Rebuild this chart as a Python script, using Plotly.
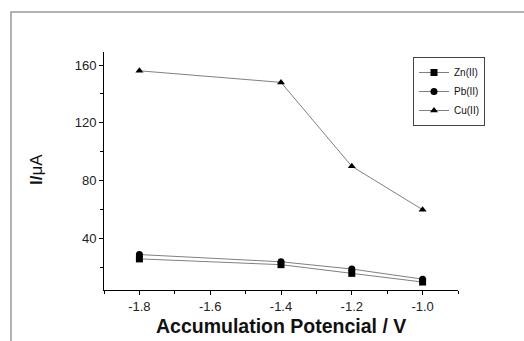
import plotly.graph_objects as go

potential = [-1.8, -1.4, -1.2, -1.0]
zn = [26, 22, 16, 10]
pb = [29, 24, 19, 12]
cu = [156, 148, 90, 60]
names = ["Zn(II)", "Pb(II)", "Cu(II)"]
symbols = ["square", "circle", "triangle-up"]

W, H = 524, 341
L, R, T, B = 104, 66, 52, 51
pw, ph = W - L - R, H - T - B

def px(x):
    return (x - L) / pw

def py(y):
    return (H - B - y) / ph

fig = go.Figure()
for name, vals, sym in zip(names, [zn, pb, cu], symbols):
    fig.add_trace(go.Scatter(
        x=potential, y=vals, name=name, mode="lines+markers",
        line=dict(color="#808080", width=1),
        marker=dict(symbol=sym, color="black", size=7),
    ))

axis_common = dict(
    showgrid=False, zeroline=False, showline=True, linecolor="black", linewidth=1,
    ticks="outside", ticklen=4, tickcolor="black", automargin=False,
    tickfont=dict(family="Liberation Sans, Arial", size=13, color="#222"),
)
fig.update_xaxes(range=[-1.9, -0.9], tickvals=[-1.8, -1.6, -1.4, -1.2, -1.0],
                 ticktext=["-1.8", "-1.6", "-1.4", "-1.2", "-1.0"],
                 minor=dict(dtick=0.1, ticks="outside", ticklen=3, tickcolor="black"),
                 **axis_common)
fig.update_yaxes(range=[4.5, 169], tickvals=[40, 80, 120, 160],
                 minor=dict(tickvals=[20, 60, 100, 140], ticks="outside", ticklen=3, tickcolor="black"),
                 **axis_common)

fig.add_annotation(text="<b>Accumulation Potencial / V</b>", xref="paper", yref="paper",
                   x=0.5, y=py(326), xanchor="center", yanchor="middle", showarrow=False,
                   font=dict(family="Liberation Sans, Arial", size=19.5, color="#111"))
fig.add_annotation(text="<b>I/</b>μA", xref="paper", yref="paper", textangle=-90,
                   x=px(36), y=py(170), xanchor="center", yanchor="middle", showarrow=False,
                   font=dict(family="Liberation Sans, Arial", size=17, color="#111"))

fig.add_shape(type="path", xref="paper", yref="paper",
              path=f"M {px(524)} {py(12)} L {px(11)} {py(12)} L {px(11)} {py(341)}",
              line=dict(color="#999999", width=1.5))

fig.update_layout(
    width=W, height=H, margin=dict(l=L, r=R, t=T, b=B),
    plot_bgcolor="white", paper_bgcolor="white",
    showlegend=True,
    legend=dict(x=px(413), y=py(57), xanchor="left", yanchor="top",
                bordercolor="#444", borderwidth=1, bgcolor="white",
                font=dict(family="Liberation Sans, Arial", size=10, color="#111"),
                tracegroupgap=0, itemwidth=30),
)
fig.write_html("out.html", config={"displayModeBar": False},
               post_script="document.body.style.margin='0';")
